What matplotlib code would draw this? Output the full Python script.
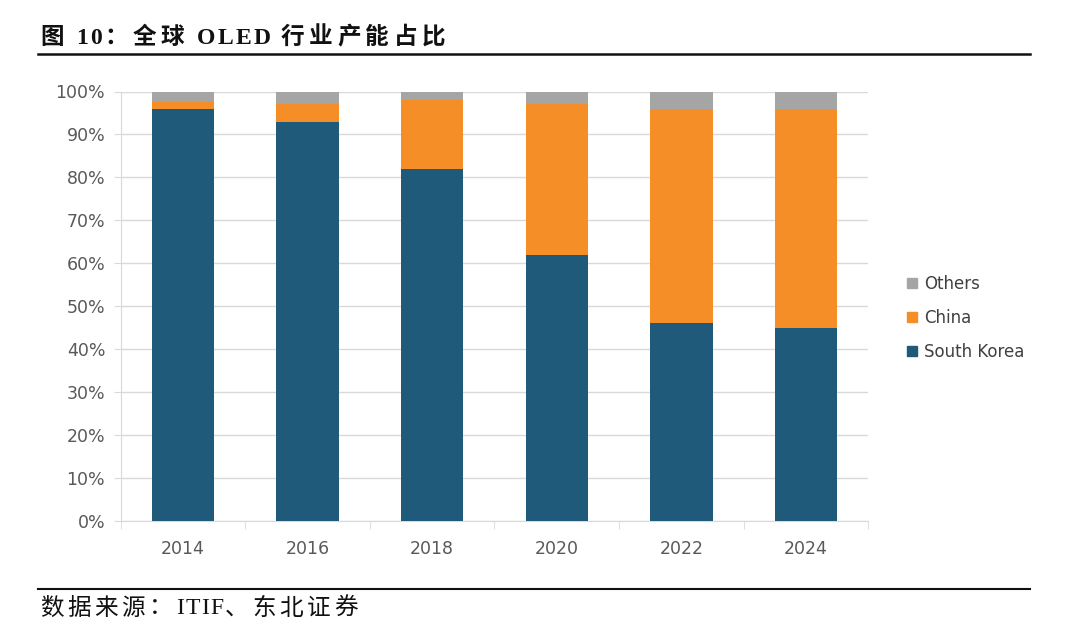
import matplotlib
matplotlib.use("Agg")
import matplotlib.pyplot as plt
from matplotlib.lines import Line2D
import numpy as np

years = ["2014", "2016", "2018", "2020", "2022", "2024"]
south_korea = [96, 93, 82, 62, 46, 45]
china = [1.5, 4, 16, 35, 50, 51]
others = [2.5, 3, 2, 3, 4, 4]

title = "图 10：全球 OLED 行业产能占比"
source = "数据来源：ITIF、东北证券"

C_SK = "#1F5A7A"
C_CN = "#F68E28"
C_OT = "#A5A5A5"
GRID = "#D9D9D9"
TXT = "#595959"
W, H = 1080, 628


def tracked_text(fig, x_px, y_px, s, cjk_track, latin_track, **kw):
    """Draw s glyph by glyph; wide (CJK) glyphs get more letter spacing."""
    r = fig.canvas.get_renderer()
    fs = kw.get("fontsize", 12)
    x = x_px
    for ch in s:
        if ch == " ":
            x += fs * 0.45
            continue
        t = fig.text(x / W, 1 - y_px / H, ch, ha="left", va="center", **kw)
        adv = t.get_window_extent(r).width
        x += adv + (cjk_track if ord(ch) > 0x2E80 else latin_track)
    return x


fig = plt.figure(figsize=(10.8, 6.28), dpi=100)
ax = fig.add_axes([120.5 / W, 1 - 521 / H, 748 / W, 429.5 / H])

x = np.arange(len(years))
w = 0.5
ax.bar(x, south_korea, w, color=C_SK, label="South Korea", zorder=3)
ax.bar(x, china, w, bottom=south_korea, color=C_CN, label="China", zorder=3)
bot2 = np.array(south_korea) + np.array(china)
ax.bar(x, others, w, bottom=bot2, color=C_OT, label="Others", zorder=3)

ax.set_xlim(-0.5, len(years) - 0.5)
ax.set_ylim(0, 100)
ax.set_yticks(range(0, 101, 10))
ax.set_yticklabels([f"{v}%" for v in range(0, 101, 10)])
ax.set_xticks(x)
ax.set_xticklabels(years)
ax.set_xticks(np.arange(-0.5, len(years)), minor=True)
ax.tick_params(axis="x", which="major", length=0, pad=14, labelsize=12.5, labelcolor=TXT)
ax.tick_params(axis="x", which="minor", length=6, color=GRID, direction="out")
ax.tick_params(axis="y", length=5, color=GRID, pad=6, labelsize=12.5, labelcolor=TXT)
ax.grid(axis="y", color=GRID, linewidth=1, zorder=0)
for s in ["top", "right"]:
    ax.spines[s].set_visible(False)
ax.spines["left"].set_color(GRID)
ax.spines["bottom"].set_color(GRID)

handles = [
    Line2D([], [], marker="s", linestyle="none", color=c, markersize=6.5, label=l)
    for c, l in [(C_OT, "Others"), (C_CN, "China"), (C_SK, "South Korea")]
]
fig.legend(handles=handles, loc="center left", bbox_to_anchor=(889 / W, 1 - 318 / H),
           frameon=False, fontsize=12, labelcolor="#404040", handletextpad=0.2,
           labelspacing=0.95, handlelength=1.0)

fam = ["Liberation Serif", "Noto Sans CJK SC"]
tracked_text(fig, 40, 38, title, 4.5, 2.5, family=fam, fontsize=17,
             fontweight="bold", color="#111111")
fig.add_artist(Line2D([38 / W, 1030 / W], [1 - 54 / H, 1 - 54 / H], color="#111111", linewidth=1.8))
fig.add_artist(Line2D([38 / W, 1030 / W], [1 - 589 / H, 1 - 589 / H], color="#111111", linewidth=1.5))
tracked_text(fig, 40, 609, source, 3.5, 1.5, family=fam, fontsize=17, color="#111111")

fig.savefig("out.png", dpi=100)
